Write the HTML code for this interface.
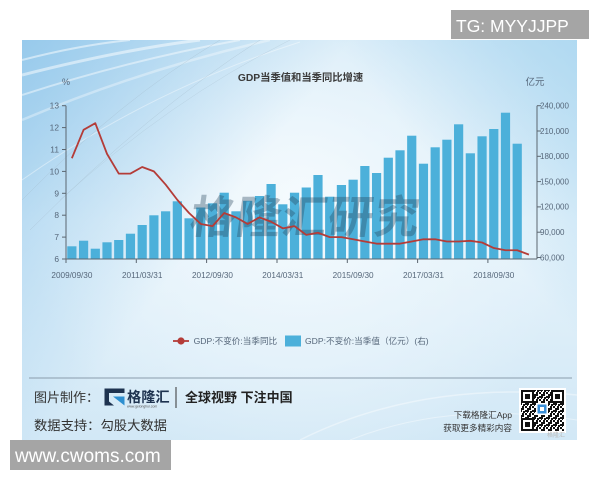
<!DOCTYPE html>
<html><head><meta charset="utf-8">
<style>
html,body{margin:0;padding:0;background:#fff;}
svg{display:block;}
text{font-family:"Liberation Sans","Noto Sans CJK SC",sans-serif;}
</style></head>
<body>
<svg width="600" height="480" viewBox="0 0 600 480" xmlns="http://www.w3.org/2000/svg">
<defs>
  <linearGradient id="bgv" x1="0" y1="40" x2="0" y2="440" gradientUnits="userSpaceOnUse">
    <stop offset="0" stop-color="#cde6f6"/>
    <stop offset="0.45" stop-color="#e6f3fb"/>
    <stop offset="1" stop-color="#d2e8f6"/>
  </linearGradient>
  <radialGradient id="rw" cx="300" cy="200" r="280" gradientUnits="userSpaceOnUse">
    <stop offset="0" stop-color="#f6fbfe" stop-opacity="0.95"/>
    <stop offset="0.6" stop-color="#eef7fc" stop-opacity="0.5"/>
    <stop offset="1" stop-color="#eef7fc" stop-opacity="0"/>
  </radialGradient>
  <linearGradient id="tl" x1="22" y1="40" x2="230" y2="200" gradientUnits="userSpaceOnUse">
    <stop offset="0" stop-color="#8ec5ea" stop-opacity="0.85"/>
    <stop offset="1" stop-color="#8ec5ea" stop-opacity="0"/>
  </linearGradient>
  <linearGradient id="tr" x1="577" y1="40" x2="430" y2="160" gradientUnits="userSpaceOnUse">
    <stop offset="0" stop-color="#a9d6f0" stop-opacity="0.8"/>
    <stop offset="1" stop-color="#a9d6f0" stop-opacity="0"/>
  </linearGradient>
  <pattern id="qp" width="7" height="7" patternUnits="userSpaceOnUse">
    <rect x="0" y="0" width="2" height="2" fill="#111"/>
    <rect x="4" y="0" width="2" height="4" fill="#111"/>
    <rect x="2" y="2" width="2" height="2" fill="#111"/>
    <rect x="0" y="4" width="4" height="2" fill="#111"/>
    <rect x="5" y="5" width="2" height="2" fill="#111"/>
    <rect x="2" y="6" width="1" height="1" fill="#111"/>
  </pattern>
  <clipPath id="card"><rect x="22" y="40" width="555" height="400"/></clipPath>
</defs>

<!-- card background -->
<rect x="22" y="40" width="555" height="400" fill="url(#bgv)"/>
<rect x="22" y="40" width="555" height="400" fill="url(#rw)"/>
<rect x="22" y="40" width="555" height="400" fill="url(#tl)"/>
<rect x="22" y="40" width="555" height="400" fill="url(#tr)"/>
<g clip-path="url(#card)" stroke="#ffffff" fill="none">
  <path d="M22 75 Q120 50 200 40" stroke-width="3" stroke-opacity="0.5"/>
  <path d="M22 95 Q130 60 240 40" stroke-width="2" stroke-opacity="0.45"/>
  <path d="M22 120 Q140 70 270 40" stroke-width="2.5" stroke-opacity="0.35"/>
  <path d="M22 60 Q80 45 130 40" stroke-width="2" stroke-opacity="0.5"/>
  <path d="M22 180 Q150 90 300 42" stroke-width="1" stroke-opacity="0.4"/>
  <path d="M30 230 Q150 110 260 40" stroke="#9fb6c6" stroke-width="0.5" stroke-opacity="0.5"/>
  <path d="M22 200 Q120 100 220 40" stroke="#9fb6c6" stroke-width="0.5" stroke-opacity="0.5"/>
  <path d="M60 200 Q170 100 290 40" stroke="#9fb6c6" stroke-width="0.5" stroke-opacity="0.4"/>
  <path d="M300 440 Q420 380 577 395" stroke-width="1.5" stroke-opacity="0.4"/>
  <path d="M350 440 Q450 400 577 420" stroke-width="1" stroke-opacity="0.4"/>
</g>

<!-- title -->
<text x="300.5" y="81" font-size="10.3" font-weight="bold" fill="#3a3a3a" text-anchor="middle">GDP当季值和当季同比增速</text>
<text x="66" y="85" font-size="9" fill="#56677a" text-anchor="middle">%</text>
<text x="535" y="85" font-size="9.5" fill="#56677a" text-anchor="middle">亿元</text>

<!-- bars -->
<g fill="#4cb0da">
<rect x="67.26" y="246.3" width="9.2" height="12.7"/>
<rect x="78.98" y="240.7" width="9.2" height="18.3"/>
<rect x="90.70" y="248.7" width="9.2" height="10.3"/>
<rect x="102.42" y="242.3" width="9.2" height="16.7"/>
<rect x="114.14" y="240.0" width="9.2" height="19.0"/>
<rect x="125.86" y="233.7" width="9.2" height="25.3"/>
<rect x="137.58" y="225.0" width="9.2" height="34.0"/>
<rect x="149.30" y="215.3" width="9.2" height="43.7"/>
<rect x="161.02" y="211.3" width="9.2" height="47.7"/>
<rect x="172.74" y="201.3" width="9.2" height="57.7"/>
<rect x="184.46" y="218.3" width="9.2" height="40.7"/>
<rect x="196.18" y="207.5" width="9.2" height="51.5"/>
<rect x="207.90" y="203.3" width="9.2" height="55.7"/>
<rect x="219.62" y="192.7" width="9.2" height="66.3"/>
<rect x="231.34" y="211.3" width="9.2" height="47.7"/>
<rect x="243.06" y="200.8" width="9.2" height="58.2"/>
<rect x="254.78" y="196.0" width="9.2" height="63.0"/>
<rect x="266.50" y="184.0" width="9.2" height="75.0"/>
<rect x="278.22" y="204.3" width="9.2" height="54.7"/>
<rect x="289.94" y="192.7" width="9.2" height="66.3"/>
<rect x="301.66" y="187.5" width="9.2" height="71.5"/>
<rect x="313.38" y="175.0" width="9.2" height="84.0"/>
<rect x="325.10" y="196.7" width="9.2" height="62.3"/>
<rect x="336.82" y="185.0" width="9.2" height="74.0"/>
<rect x="348.54" y="179.7" width="9.2" height="79.3"/>
<rect x="360.26" y="166.0" width="9.2" height="93.0"/>
<rect x="371.98" y="173.0" width="9.2" height="86.0"/>
<rect x="383.70" y="157.7" width="9.2" height="101.3"/>
<rect x="395.42" y="150.3" width="9.2" height="108.7"/>
<rect x="407.14" y="135.7" width="9.2" height="123.3"/>
<rect x="418.86" y="163.7" width="9.2" height="95.3"/>
<rect x="430.58" y="147.3" width="9.2" height="111.7"/>
<rect x="442.30" y="139.7" width="9.2" height="119.3"/>
<rect x="454.02" y="124.3" width="9.2" height="134.7"/>
<rect x="465.74" y="153.3" width="9.2" height="105.7"/>
<rect x="477.46" y="136.3" width="9.2" height="122.7"/>
<rect x="489.18" y="129.0" width="9.2" height="130.0"/>
<rect x="500.90" y="112.7" width="9.2" height="146.3"/>
<rect x="512.62" y="143.7" width="9.2" height="115.3"/>
</g>

<!-- watermark -->
<text x="190" y="233" font-size="45" font-weight="bold" fill="#28465c" fill-opacity="0.36" font-family="'Noto Sans CJK SC',sans-serif" letter-spacing="1" transform="skewX(-8) translate(31,0)">格隆汇研究</text>

<!-- line -->
<polyline fill="none" stroke="#b43c38" stroke-width="1.8" stroke-linejoin="round"
points="71.86,158.26 83.58,129.79 95.30,123.22 107.02,153.88 118.74,173.59 130.46,173.59 142.18,167.02 153.90,171.4 165.62,184.54 177.34,199.87 189.06,213.01 200.78,223.96 212.50,226.15 224.22,213.01 235.94,217.39 247.66,223.96 259.38,217.39 271.10,221.77 282.82,228.34 294.54,226.15 306.26,234.91 317.98,232.72 329.70,237.1 341.42,237.1 353.14,239.29 364.86,241.48 376.58,243.67 388.30,243.67 400.02,243.67 411.74,241.48 423.46,239.29 435.18,239.29 446.90,241.48 458.62,241.48 470.34,240.8 482.06,242.5 493.78,248.05 505.50,250.24 517.22,250.24 528.94,254.62"/>

<!-- axes -->
<g stroke="#5b6670" stroke-width="1" fill="none">
  <line x1="66" y1="105.7" x2="66" y2="259"/>
  <line x1="66" y1="259" x2="537" y2="259"/>
  <line x1="537" y1="105.7" x2="537" y2="259"/>
  <line x1="62" y1="105.7" x2="66" y2="105.7"/>
  <line x1="62" y1="127.6" x2="66" y2="127.6"/>
  <line x1="62" y1="149.5" x2="66" y2="149.5"/>
  <line x1="62" y1="171.4" x2="66" y2="171.4"/>
  <line x1="62" y1="193.3" x2="66" y2="193.3"/>
  <line x1="62" y1="215.2" x2="66" y2="215.2"/>
  <line x1="62" y1="237.1" x2="66" y2="237.1"/>
  <line x1="62" y1="259" x2="66" y2="259"/>
  <line x1="537" y1="105.7" x2="541" y2="105.7"/>
  <line x1="537" y1="131.0" x2="541" y2="131.0"/>
  <line x1="537" y1="156.3" x2="541" y2="156.3"/>
  <line x1="537" y1="181.6" x2="541" y2="181.6"/>
  <line x1="537" y1="206.9" x2="541" y2="206.9"/>
  <line x1="537" y1="232.2" x2="541" y2="232.2"/>
  <line x1="537" y1="257.5" x2="541" y2="257.5"/>
  <line x1="66" y1="259" x2="66" y2="263"/>
  <line x1="136.3" y1="259" x2="136.3" y2="263"/>
  <line x1="206.6" y1="259" x2="206.6" y2="263"/>
  <line x1="277" y1="259" x2="277" y2="263"/>
  <line x1="347.3" y1="259" x2="347.3" y2="263"/>
  <line x1="417.6" y1="259" x2="417.6" y2="263"/>
  <line x1="487.9" y1="259" x2="487.9" y2="263"/>
</g>
<g font-size="8.4" fill="#56677a" text-anchor="end">
  <text x="59" y="108.7">13</text>
  <text x="59" y="130.6">12</text>
  <text x="59" y="152.5">11</text>
  <text x="59" y="174.4">10</text>
  <text x="59" y="196.3">9</text>
  <text x="59" y="218.2">8</text>
  <text x="59" y="240.1">7</text>
  <text x="59" y="262">6</text>
</g>
<g font-size="8" fill="#56677a" text-anchor="start">
  <text x="540" y="108.5">240,000</text>
  <text x="540" y="133.8">210,000</text>
  <text x="540" y="159.1">180,000</text>
  <text x="540" y="184.4">150,000</text>
  <text x="540" y="209.7">120,000</text>
  <text x="540" y="235">90,000</text>
  <text x="540" y="260.3">60,000</text>
</g>
<g font-size="8.2" fill="#56677a" text-anchor="middle">
  <text x="71.9" y="278">2009/09/30</text>
  <text x="142.2" y="278">2011/03/31</text>
  <text x="212.5" y="278">2012/09/30</text>
  <text x="282.8" y="278">2014/03/31</text>
  <text x="353.1" y="278">2015/09/30</text>
  <text x="423.5" y="278">2017/03/31</text>
  <text x="493.8" y="278">2018/09/30</text>
</g>

<!-- legend -->
<line x1="173" y1="341" x2="189" y2="341" stroke="#b43c38" stroke-width="1.8"/>
<circle cx="181" cy="341" r="3.6" fill="#b43c38"/>
<text x="193.6" y="344" font-size="8.6" fill="#56677a">GDP:不变价:当季同比</text>
<rect x="285" y="335.5" width="16" height="11" fill="#4cb0da"/>
<text x="305" y="344" font-size="8.6" fill="#56677a">GDP:不变价:当季值（亿元）(右)</text>

<!-- separator -->
<line x1="29" y1="378" x2="572" y2="378" stroke="#8a9cac" stroke-width="1"/>

<!-- footer -->
<text x="34" y="401.8" font-size="13" fill="#333">图片制作：</text>
<text x="34" y="429.8" font-size="13.3" fill="#333">数据支持：勾股大数据</text>
<!-- G logo -->
<path d="M104.5 388.5 H124.5 V393 H109 V401.5 H104.5 Z" fill="#1e3350"/>
<path d="M104.5 401 H109 V401.5 L109 405.5 H104.5 Z" fill="#1e3350"/>
<path d="M109 401.5 V405.5 H114 Z" fill="#1e3350"/>
<path d="M113 396.5 H124.5 V405.5 Z" fill="#2e8fd0"/>
<text x="127" y="402" font-size="14.2" font-weight="bold" fill="#1e3350">格隆汇</text>
<text x="127" y="407.6" font-size="3.4" fill="#555">www.gelonghui.com</text>
<line x1="176" y1="387" x2="176" y2="408" stroke="#333" stroke-width="1"/>
<text x="185" y="401.8" font-size="13" font-weight="bold" fill="#222">全球视野 下注中国</text>
<text x="512" y="418" font-size="8.6" fill="#333" text-anchor="end">下载格隆汇App</text>
<text x="512" y="430.8" font-size="8.6" fill="#333" text-anchor="end">获取更多精彩内容</text>

<!-- QR -->
<rect x="519" y="388" width="47" height="45" fill="#fff"/>
<rect x="521" y="390" width="43" height="41" fill="url(#qp)"/>
<g>
  <rect x="521" y="390" width="13" height="13" fill="#111"/>
  <rect x="523" y="392" width="9" height="9" fill="#fff"/>
  <rect x="525" y="394" width="5" height="5" fill="#111"/>
  <rect x="551" y="390" width="13" height="13" fill="#111"/>
  <rect x="553" y="392" width="9" height="9" fill="#fff"/>
  <rect x="555" y="394" width="5" height="5" fill="#111"/>
  <rect x="521" y="418" width="13" height="13" fill="#111"/>
  <rect x="523" y="420" width="9" height="9" fill="#fff"/>
  <rect x="525" y="422" width="5" height="5" fill="#111"/>
  <rect x="536" y="403" width="12" height="12" fill="#fff"/>
  <rect x="537.5" y="404.5" width="9" height="9" fill="#3a8fd8"/>
  <rect x="540" y="407" width="4" height="4" fill="#fff"/>
</g>
<text x="565" y="437" font-size="6" fill="#bbb" text-anchor="end">格隆汇</text>

<!-- overlay boxes -->
<rect x="451" y="10" width="138" height="29" fill="#a5a5a5"/>
<text x="456" y="31.8" font-size="17.5" fill="#fff">TG: MYYJJPP</text>
<rect x="10" y="440" width="161" height="30" fill="#a5a5a5"/>
<text x="15" y="462" font-size="19" fill="#fff">www.cwoms.com</text>
</svg>
</body></html>
